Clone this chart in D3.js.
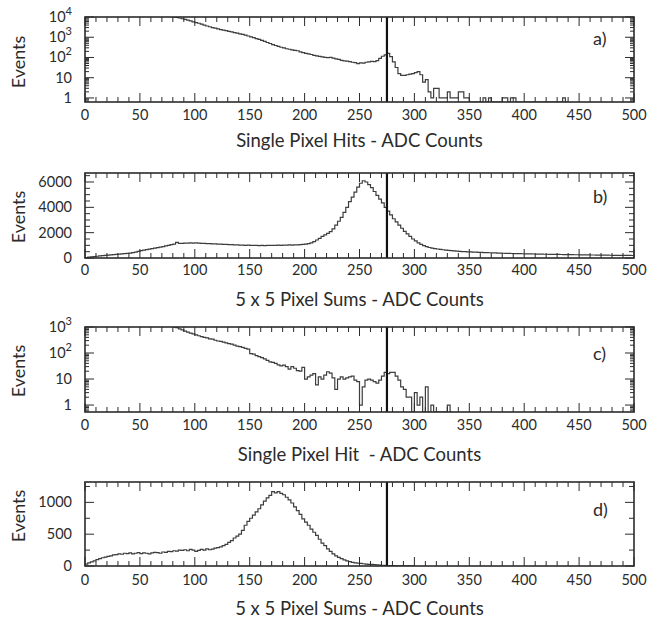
<!DOCTYPE html>
<html>
<head>
<meta charset="utf-8">
<script src="https://cdn.jsdelivr.net/npm/d3@7"></script>
<style>
  body { margin: 0; background: #fff; }
  svg { display: block; font-family: Lato, "Open Sans", sans-serif; }
</style>
</head>
<body>
<div class="canvas_area"></div>
<script>
// bin width of every histogram (ADC counts)
const binWidth = 2.5;
const cutLine = 275;
const xTickValues = [0, 50, 100, 150, 200, 250, 300, 350, 400, 450, 500];
const xMinorStep = 10;

// a) single pixel hits, log scale, first bin starts at 77.5
const startA = 77.5;
const countsA = [
  11000, 10200, 9500, 8900, 8200, 7600, 7000, 6500, 5800, 5300,
  4900, 4400, 4000, 3600, 3300, 3000, 2800, 2600, 2400, 2250,
  2100, 1950, 1850, 1700, 1600, 1480, 1380, 1280, 1150, 1050,
  950, 860, 780, 700, 620, 550, 490, 430, 390, 350,
  320, 300, 270, 255, 240, 225, 215, 190, 175, 160,
  150, 140, 128, 120, 112, 108, 102, 98, 100, 92,
  86, 80, 72, 68, 66, 62, 58, 55, 50, 54,
  52, 58, 60, 64, 62, 70, 90, 115, 135, 160,
  110, 60, 32, 16, 13, 13, 14, 15, 16, 18,
  20, 14, 6, 8, 2, 1, 3, 3, 1, 1,
  1, 2, 1, 1, 1, 2, 2, 1, 1, 0,
  0, 0, 0, 0, 1, 0, 1, 0, 0, 0,
  0, 1, 1, 0, 1, 1, 0, 0, 0, 0,
  0, 0, 0, 0, 0, 0, 0, 0, 0, 0,
  0, 0, 0, 1, 0
];

// b) 5x5 pixel sums, linear scale, starts at 0
const startB = 0;
const countsB = [
  40, 70, 100, 120, 140, 160, 180, 200, 220, 240,
  260, 280, 300, 320, 340, 370, 390, 420, 460, 520,
  580, 620, 660, 700, 740, 780, 820, 860, 900, 950,
  1000, 1050, 1100, 1240, 1150, 1160, 1180, 1170, 1190, 1180,
  1200, 1170, 1160, 1150, 1140, 1130, 1120, 1110, 1100, 1090,
  1080, 1070, 1060, 1050, 1040, 1030, 1020, 1010, 1000, 1010,
  1000, 990, 1000, 980, 990, 980, 990, 1000, 990, 1000,
  1010, 1000, 1020, 1010, 1030, 1020, 1030, 1040, 1050, 1080,
  1100, 1140, 1200, 1300, 1420, 1550, 1700, 1820, 1950, 2080,
  2300, 2600, 2900, 3200, 3600, 4000, 4450, 4800, 5200, 5600,
  5900, 6100, 6000, 5800, 5550, 5250, 4950, 4650, 4350, 4000,
  3700, 3400, 3100, 2850, 2600, 2350, 2100, 1900, 1700, 1500,
  1350, 1200, 1080, 980, 900, 830, 780, 740, 710, 680,
  650, 620, 600, 580, 560, 540, 520, 510, 500, 490,
  480, 470, 460, 450, 440, 430, 420, 415, 410, 400,
  390, 385, 375, 370, 360, 355, 350, 345, 340, 335,
  330, 325, 320, 315, 310, 305, 300, 298, 295, 292,
  290, 285, 280, 275, 272, 268, 265, 260, 258, 255,
  250, 248, 245, 240, 238, 235, 232, 228, 225, 222,
  220, 218, 215, 212, 210, 208, 205, 203, 200, 198
];

// c) single pixel hit, log scale, starts at 80
const startC = 80;
const countsC = [
  1000, 950, 850, 780, 700, 640, 580, 540, 500, 460,
  430, 400, 380, 350, 340, 310, 290, 280, 260, 245,
  230, 220, 200, 185, 175, 165, 150, 140, 95, 90,
  80, 72, 66, 60, 52, 46, 44, 40, 35, 32,
  34, 30, 24, 30, 26, 21, 20, 28, 10, 12,
  14, 16, 6, 12, 10, 14, 19, 17, 11, 4,
  10, 12, 10, 11, 12, 13, 9, 8, 1, 5,
  9, 10, 9, 8, 7, 9, 13, 18, 16, 18,
  18, 13, 9, 5, 4, 2, 2, 0, 3, 1,
  2, 0, 5, 0, 1, 0, 0, 0, 0, 0,
  1, 0
];

// d) 5x5 pixel sums, linear scale, starts at 0
const startD = 0;
const countsD = [
  30, 50, 65, 80, 100, 115, 130, 140, 150, 160,
  175, 180, 190, 185, 200, 195, 205, 190, 200, 210,
  195, 205, 200, 190, 205, 215, 210, 200, 220, 215,
  230, 225, 240, 235, 250, 245, 255, 240, 260, 250,
  230, 245, 260, 250, 270, 255, 265, 280, 290, 300,
  320, 340, 370, 400, 440, 470, 500, 560, 640, 700,
  750, 800, 850, 900, 960, 1020, 1070, 1110, 1170, 1150,
  1170, 1140, 1120, 1080, 1040, 990, 930, 870, 810, 740,
  690, 640, 580, 530, 480, 420, 360, 320, 270, 230,
  190, 160, 135, 115, 95, 80, 68, 58, 50, 45,
  40, 35, 30, 27, 24, 21, 18, 15, 12, 10,
  8, 6, 5, 4, 3, 3, 2, 2, 2, 1
];

const titleA = "Single Pixel Hits - ADC Counts";
const titleB = "5 x 5 Pixel Sums - ADC Counts";
const titleC = "Single Pixel Hit\u00a0 - ADC Counts";
const titleD = "5 x 5 Pixel Sums - ADC Counts";

const svgwidth = 649, svgheight = 618;
const left = 85, right = 634;
const ink = "#2b2b2b";

const svg = d3.select(".canvas_area").append("svg")
  .attr("width", svgwidth).attr("height", svgheight);

const X = d3.scaleLinear().domain([0, 500]).range([left, right]);

const panels = [
  {id: "a", top: 17, bottom: 102, log: true, domain: [0.63, 1e4], decades: [1, 10, 100, 1000, 10000],
   start: startA, counts: countsA, title: titleA, titleY: 147, tickY: 120, letterY: 45, eventsY: 62},
  {id: "b", top: 173, bottom: 258, log: false, domain: [0, 6710], major: [0, 2000, 4000, 6000], minorStep: 500,
   start: startB, counts: countsB, title: titleB, titleY: 306, tickY: 275, letterY: 203, eventsY: 217},
  {id: "c", top: 327, bottom: 412, log: true, domain: [0.54, 1000], decades: [1, 10, 100, 1000],
   start: startC, counts: countsC, title: titleC, titleY: 461, tickY: 430, letterY: 360, eventsY: 371},
  {id: "d", top: 482, bottom: 566, log: false, domain: [0, 1320], major: [0, 500, 1000], minorStep: 250,
   start: startD, counts: countsD, title: titleD, titleY: 615, tickY: 585, letterY: 516, eventsY: 516}
];

panels.forEach(p => {
  const Y = p.log ? d3.scaleLog() : d3.scaleLinear();
  Y.domain(p.domain).range([p.bottom, p.top]);
  const g = svg.append("g").classed("panel-" + p.id, true);

  // clip
  g.append("clipPath").attr("id", "clip-" + p.id)
    .append("rect").attr("x", left).attr("y", p.top)
    .attr("width", right - left).attr("height", p.bottom - p.top);

  // histogram steps
  const yOf = v => v > 0 ? Y(v) : p.bottom;
  let d = "";
  p.counts.forEach((c, i) => {
    const x0 = X(p.start + i * binWidth), x1 = X(p.start + (i + 1) * binWidth);
    d += (i === 0 ? `M${x0},${yOf(c)}` : `V${yOf(c)}`) + `H${x1}`;
  });
  g.append("path").attr("d", d)
    .attr("clip-path", `url(#clip-${p.id})`)
    .style("fill", "none").style("stroke", "#3d3d3d").style("stroke-width", 1.2);

  // cut line
  g.append("line").attr("x1", X(cutLine)).attr("x2", X(cutLine))
    .attr("y1", p.top).attr("y2", p.bottom)
    .style("stroke", "#111").style("stroke-width", 2.2);

  // x ticks top and bottom
  const ticks = g.append("g").style("stroke", ink).style("stroke-width", 1);
  for (let v = 0; v <= 500; v += xMinorStep) {
    const len = xTickValues.includes(v) ? 9 : 5;
    ticks.append("line").attr("x1", X(v)).attr("x2", X(v)).attr("y1", p.bottom).attr("y2", p.bottom - len);
    ticks.append("line").attr("x1", X(v)).attr("x2", X(v)).attr("y1", p.top).attr("y2", p.top + len);
  }
  // y ticks left and right
  let yTicks;
  if (p.log) {
    yTicks = Y.ticks().map(v => ({v, major: p.decades.includes(v)}));
  } else {
    yTicks = d3.range(0, p.domain[1], p.minorStep).map(v => ({v, major: p.major.includes(v)}));
  }
  yTicks.forEach(t => {
    const len = t.major ? 9 : (p.log ? 4 : 5);
    ticks.append("line").attr("x1", left).attr("x2", left + len).attr("y1", Y(t.v)).attr("y2", Y(t.v));
    ticks.append("line").attr("x1", right).attr("x2", right - len).attr("y1", Y(t.v)).attr("y2", Y(t.v));
  });

  // frame
  g.append("rect").attr("x", left).attr("y", p.top)
    .attr("width", right - left).attr("height", p.bottom - p.top)
    .style("fill", "none").style("stroke", ink).style("stroke-width", 1.6);

  // x tick labels
  g.selectAll(".xlab").data(xTickValues).enter().append("text").classed("xlab", true)
    .attr("x", v => X(v)).attr("y", p.tickY)
    .attr("text-anchor", "middle").style("font-size", "14.5px").style("fill", ink)
    .text(v => v);

  // y tick labels
  if (p.log) {
    p.decades.forEach(v => {
      const e = Math.round(Math.log10(v));
      const t = g.append("text").attr("x", 72).attr("y", Y(v) + 5)
        .attr("text-anchor", "end").style("font-size", "14.5px").style("fill", ink);
      if (e < 2) {
        t.text(v);
      } else {
        t.append("tspan").text("10");
        t.append("tspan").attr("dy", -7).style("font-size", "11px").text(e);
      }
    });
  } else {
    p.major.forEach(v => {
      g.append("text").attr("x", 72).attr("y", Y(v) + 5)
        .attr("text-anchor", "end").style("font-size", "14.5px").style("fill", ink)
        .text(v);
    });
  }

  // axis titles
  g.append("text").attr("x", (left + right) / 2).attr("y", p.titleY)
    .attr("text-anchor", "middle").style("font-size", "18.5px").style("fill", ink)
    .text(p.title);
  g.append("text")
    .attr("transform", `translate(25, ${p.eventsY}) rotate(-90)`)
    .attr("text-anchor", "middle").style("font-size", "18px").style("fill", ink)
    .text("Events");
  g.append("text").attr("x", 593).attr("y", p.letterY)
    .style("font-size", "18px").style("fill", ink)
    .text(p.id + ")");
});
</script>
</body>
</html>
